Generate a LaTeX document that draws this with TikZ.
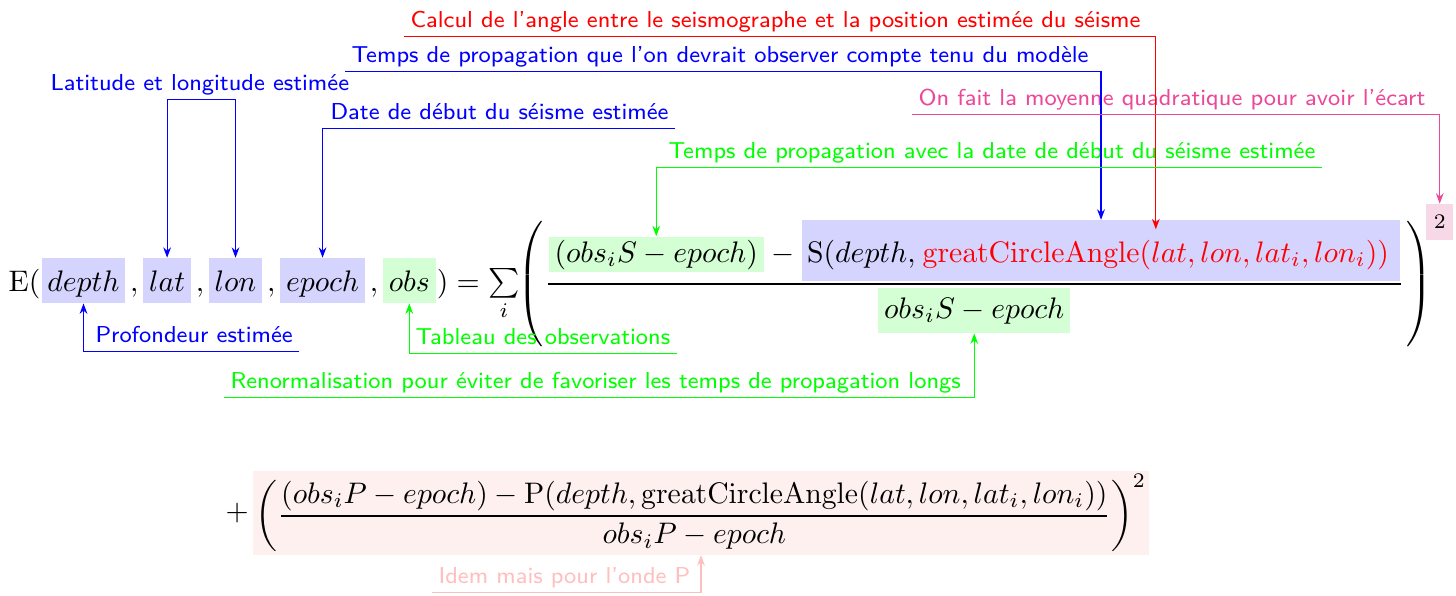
\documentclass[tikz,border=0pt]{standalone}
\usetikzlibrary{positioning,fit,calc,backgrounds,arrows.meta}
\definecolor{moyenne}{RGB}{236,72,153}
\definecolor{sqfill}{RGB}{247,216,230}
\tikzset{
  lbl/.style={font=\sffamily\fontsize{7.75}{9.5}\selectfont, inner xsep=2pt, inner ysep=1.5pt, text depth=1.5pt, anchor=base west},
  vbox/.style={fill=blue!17, inner xsep=2pt, inner ysep=2pt, text height=9pt, text depth=2pt},
  gbox/.style={vbox, fill=green!17},
  punct/.style={inner xsep=1.2pt, inner ysep=0pt},
  arr/.style={-{Stealth[length=3.5pt,width=2.6pt]}},
  arrs/.style={{Stealth[length=3.5pt,width=2.6pt]}-{Stealth[length=3.5pt,width=2.6pt]}},
}
\begin{document}
\begin{tikzpicture}[x=0.3367pt, y=-0.3367pt]
\useasboundingbox (0,0) rectangle (1456,595);

% left-hand side
\node[anchor=base west, inner sep=0pt] (E) at (8,291) {$\mathrm{E}($};
\node[vbox, base right=0pt of E] (depth) {$depth$};
\node[punct, base right=0pt of depth] (c1) {$,$};
\node[vbox, base right=0pt of c1] (lat) {$lat$};
\node[punct, base right=0pt of lat] (c2) {$,$};
\node[vbox, base right=0pt of c2] (lon) {$lon$};
\node[punct, base right=0pt of lon] (c3) {$,$};
\node[vbox, base right=0pt of c3] (epoch) {$epoch$};
\node[punct, base right=0pt of epoch] (c4) {$,$};
\node[gbox, base right=0pt of c4] (obs) {$obs$};
\node[inner sep=0pt, base right=0pt of obs] (sum) {$)=\sum\limits_i$};

% big parentheses and the S-wave fraction
\node[inner sep=0pt, anchor=west] (lp) at (517,284) {$\left(\rule[-20.25pt]{0pt}{45.5pt}\right.$};
\node[gbox, text height=7.5pt, text depth=2.5pt, inner ysep=1pt, anchor=base west] (num1) at (548,262) {$(obs_iS - epoch)$};
\node[inner xsep=2pt, inner ysep=0pt, base right=0pt of num1] (minus) {$-$};
\node[inner sep=0pt, base right=2pt of minus] (snode) {$\mathrm{S}(depth,$};
\node[red, inner xsep=2pt, base right=0pt of snode] (gca) {$\mathrm{greatCircleAngle}(lat, lon, lat_i, lon_i))$};
\coordinate (gcatop) at ([yshift=2.7pt]gca.north);
\begin{scope}[on background layer]
  \node[fit=(snode)(gca)(gcatop), fill=blue!17, inner xsep=1.5pt, inner ysep=0.3pt] (bluebox) {};
\end{scope}
\coordinate (barL) at (num1.west |- 0,284);
\coordinate (barR) at (bluebox.east |- 0,284);
\draw (barL) -- (barR);
\node[gbox, text height=8pt, text depth=3pt, anchor=base] (den) at ($(barL)!0.5!(barR)+(0,34)$) {$obs_iS - epoch$};
\node[inner sep=0pt, anchor=west] (rp) at ([xshift=0.5pt]barR) {$\left.\rule[-20.25pt]{0pt}{45.5pt}\right)$};
\node[fill=sqfill, font=\scriptsize, minimum width=9pt, minimum height=12pt, inner sep=0pt, anchor=west, xshift=8.5pt] (sq) at (barR |- 0,222) {$2$};

% P-wave term
\node[fill=red!6, inner xsep=1pt, inner ysep=1pt] (row2) at (701,513) {$\displaystyle\left(\frac{(obs_iP - epoch) - \mathrm{P}(depth, \mathrm{greatCircleAngle}(lat, lon, lat_i, lon_i))}{obs_iP - epoch}\right)^2$};
\node[inner xsep=1pt, inner ysep=0pt, anchor=east] (plus) at (row2.west) {$+$};

% labels
\node[lbl, red] (calcul) at (404,27) {Calcul de l'angle entre le seismographe et la position estimée du séisme};
\node[lbl, blue] (model) at (345,62) {Temps de propagation que l'on devrait observer compte tenu du modèle};
\node[lbl, moyenne] (rms) at (912,105) {On fait la moyenne quadratique pour avoir l'écart};
\node[lbl, blue] (latlon) at (44,90) {Latitude et longitude estimée};
\node[lbl, blue] (start) at (324,119) {Date de début du séisme estimée};
\node[lbl, green] (travel) at (662,158) {Temps de propagation avec la date de début du séisme estimée};
\node[lbl, blue] (prof) at (89,342) {Profondeur estimée};
\node[lbl, green] (table) at (409,344) {Tableau des observations};
\node[lbl, green] (renorm) at (224,388) {Renormalisation pour éviter de favoriser les temps de propagation longs};
\node[lbl, pink] (idem) at (432,583) {Idem mais pour l'onde P};

% connectors
\draw[red, arr] (calcul.south west) -| (gca.north);
\draw[blue, arr] (model.south west) -| (bluebox.north);
\draw[moyenne, arr] (rms.south west) -| (sq.north);
\draw[blue, arrs] (lat.north) |- (latlon.south) -| (lon.north);
\draw[blue, arr] (start.south east) -| (epoch.north);
\draw[green, arr] (travel.south east) -| (num1.north);
\draw[blue, arr] (prof.south east) -| (depth.south);
\draw[green, arr] (table.south east) -| (obs.south);
\draw[green, arr] (renorm.south west) -| (den.south);
\draw[pink, arr] (idem.south west) -| (row2.south);
\end{tikzpicture}
\end{document}
